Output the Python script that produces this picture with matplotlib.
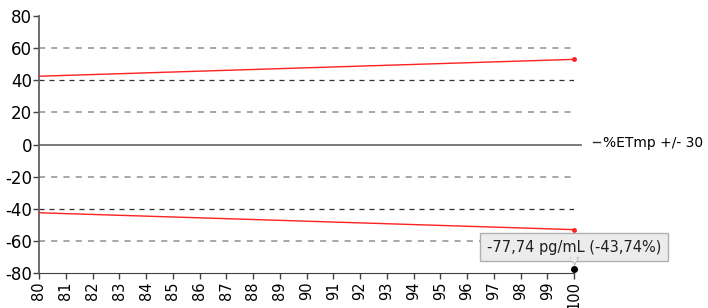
#!/usr/bin/env python3

import matplotlib
matplotlib.use("Agg")
import matplotlib.pyplot as plt
import matplotlib.transforms as mtransforms
from matplotlib.lines import Line2D

# data
x_limits = [80, 100]
upper_limit = [42.5, 53]
lower_limit = [-42.5, -53]
point_x = [100]
point_y = [-77.74]
point_label = "-77,74 pg/mL (-43,74%)"
legend_label = "%ETmp +/- 30"
x_ticks = list(range(80, 101))
y_ticks = list(range(-80, 81, 20))


def main():
    plt.rcParams['font.family'] = ['DejaVu Sans']
    plt.rcParams['axes.unicode_minus'] = False
    fig = plt.figure(figsize=(7.08, 3.08), dpi=100)
    ax = fig.add_axes([39 / 708, 1 - 273 / 308, (574 - 39) / 708, (273 - 16) / 308])

    # grid lines
    for v in [60, 20, -20, -60]:
        ax.axhline(v, color='#909090', lw=1.1, ls=(0, (4, 4)), zorder=1)
    for v in [40, -40]:
        ax.axhline(v, color='#303030', lw=0.9, ls=(0, (4, 4)), zorder=1)
    ax.plot([80, 100.25], [0, 0], color='#707070', lw=1.3, zorder=2, clip_on=False)

    # limit lines
    ax.plot(x_limits, upper_limit, color='#ff2020', lw=1.0, zorder=3)
    ax.plot(x_limits, lower_limit, color='#ff2020', lw=1.0, zorder=3)
    ax.plot([x_limits[1]], [upper_limit[1]], 'o', color='#ff2020', ms=2.5, zorder=4, clip_on=False)
    ax.plot([x_limits[1]], [lower_limit[1]], 'o', color='#ff2020', ms=2.5, zorder=4, clip_on=False)

    # measured point + tooltip
    ax.plot(point_x, point_y, 'o', color='black', ms=4, zorder=9, clip_on=False)
    ax.annotate(point_label, xy=(point_x[0], point_y[0]), xytext=(0, 16),
                textcoords='offset points', ha='center', va='center',
                fontsize=10.5, color='#202020', zorder=6,
                bbox=dict(boxstyle='square,pad=0.45', fc='#ececec', ec='#b0b0b0', lw=1))
    shift = mtransforms.ScaledTranslation(0, 8.5 / 100, fig.dpi_scale_trans)
    ax.plot(point_x, point_y, marker='v', color='#e6e6e6', mec='#b0b0b0', mew=0.6, ms=6,
            zorder=7, clip_on=False, transform=ax.transData + shift)
    ax.plot(point_x, point_y, marker='s', color='#ececec', ms=5, mew=0,
            zorder=8, clip_on=False,
            transform=ax.transData + mtransforms.ScaledTranslation(0, 11.5 / 100, fig.dpi_scale_trans))

    ax.set_xlim(80, 100)
    ax.set_ylim(-80, 80)
    ax.set_xticks(x_ticks)
    ax.set_yticks(y_ticks)
    ax.tick_params(axis='x', labelrotation=90, labelsize=10.5, length=4, width=1,
                   color='#404040', pad=2)
    ax.tick_params(axis='y', labelsize=12, length=4, width=1, color='#404040', pad=1)

    for s in ['top', 'right']:
        ax.spines[s].set_visible(False)
    ax.spines['left'].set_color('#606060')
    ax.spines['bottom'].set_color('#404040')
    ax.spines['left'].set_linewidth(1.3)

    handle = Line2D([0], [0], color='#303030', lw=1)
    fig.legend([handle], [legend_label], loc='center left', bbox_to_anchor=(586 / 708, 1 - 143 / 308),
               frameon=False, fontsize=10, handlelength=0.5, handletextpad=0.2, borderpad=0)

    fig.savefig('out.png', dpi=100)


if __name__ == "__main__":
    main()
